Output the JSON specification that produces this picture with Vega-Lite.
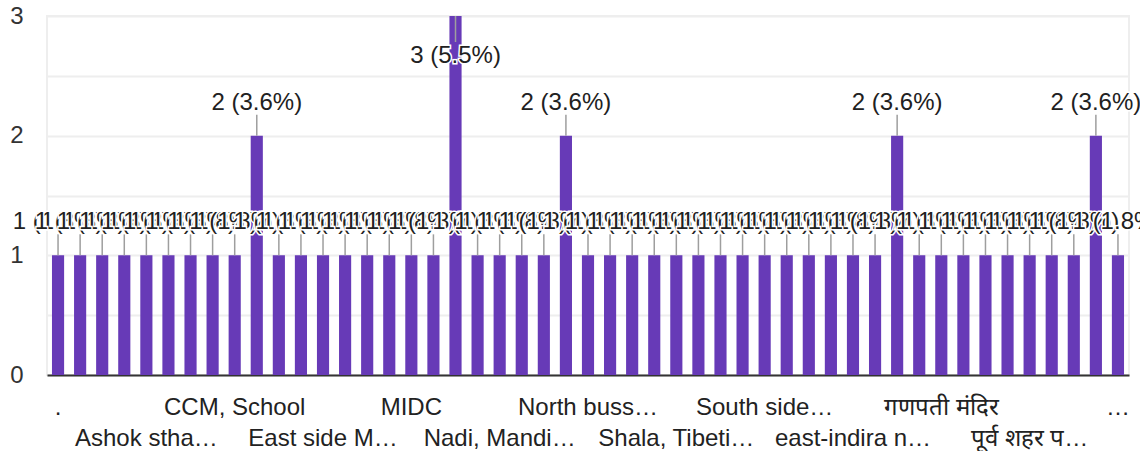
{
  "$schema": "https://vega.github.io/schema/vega-lite/v6.json",
  "width": 1082,
  "height": 359,
  "autosize": {"type": "none"},
  "padding": {"left": 47, "top": 16, "right": 11, "bottom": 76},
  "config": {
    "font": "Liberation Sans",
    "view": {"stroke": "#eeeeee", "strokeWidth": 2}
  },
  "data": {
    "values": [
      {"place": ".", "count": 1, "label": "1 (1.8%)"},
      {"place": "hidden-01", "count": 1, "label": "1 (1.8%)"},
      {"place": "hidden-02", "count": 1, "label": "1 (1.8%)"},
      {"place": "hidden-03", "count": 1, "label": "1 (1.8%)"},
      {"place": "Ashok stha…", "count": 1, "label": "1 (1.8%)"},
      {"place": "hidden-05", "count": 1, "label": "1 (1.8%)"},
      {"place": "hidden-06", "count": 1, "label": "1 (1.8%)"},
      {"place": "hidden-07", "count": 1, "label": "1 (1.8%)"},
      {"place": "CCM, School", "count": 1, "label": "1 (1.8%)"},
      {"place": "hidden-09", "count": 2, "label": "2 (3.6%)"},
      {"place": "hidden-10", "count": 1, "label": "1 (1.8%)"},
      {"place": "hidden-11", "count": 1, "label": "1 (1.8%)"},
      {"place": "East side M…", "count": 1, "label": "1 (1.8%)"},
      {"place": "hidden-13", "count": 1, "label": "1 (1.8%)"},
      {"place": "hidden-14", "count": 1, "label": "1 (1.8%)"},
      {"place": "hidden-15", "count": 1, "label": "1 (1.8%)"},
      {"place": "MIDC", "count": 1, "label": "1 (1.8%)"},
      {"place": "hidden-17", "count": 1, "label": "1 (1.8%)"},
      {"place": "hidden-18", "count": 3, "label": "3 (5.5%)"},
      {"place": "hidden-19", "count": 1, "label": "1 (1.8%)"},
      {"place": "Nadi, Mandi…", "count": 1, "label": "1 (1.8%)"},
      {"place": "hidden-21", "count": 1, "label": "1 (1.8%)"},
      {"place": "hidden-22", "count": 1, "label": "1 (1.8%)"},
      {"place": "hidden-23", "count": 2, "label": "2 (3.6%)"},
      {"place": "North buss…", "count": 1, "label": "1 (1.8%)"},
      {"place": "hidden-25", "count": 1, "label": "1 (1.8%)"},
      {"place": "hidden-26", "count": 1, "label": "1 (1.8%)"},
      {"place": "hidden-27", "count": 1, "label": "1 (1.8%)"},
      {"place": "Shala, Tibeti…", "count": 1, "label": "1 (1.8%)"},
      {"place": "hidden-29", "count": 1, "label": "1 (1.8%)"},
      {"place": "hidden-30", "count": 1, "label": "1 (1.8%)"},
      {"place": "hidden-31", "count": 1, "label": "1 (1.8%)"},
      {"place": "South side…", "count": 1, "label": "1 (1.8%)"},
      {"place": "hidden-33", "count": 1, "label": "1 (1.8%)"},
      {"place": "hidden-34", "count": 1, "label": "1 (1.8%)"},
      {"place": "hidden-35", "count": 1, "label": "1 (1.8%)"},
      {"place": "east-indira n…", "count": 1, "label": "1 (1.8%)"},
      {"place": "hidden-37", "count": 1, "label": "1 (1.8%)"},
      {"place": "hidden-38", "count": 2, "label": "2 (3.6%)"},
      {"place": "hidden-39", "count": 1, "label": "1 (1.8%)"},
      {"place": "गणपती मंदिर", "count": 1, "label": "1 (1.8%)"},
      {"place": "hidden-41", "count": 1, "label": "1 (1.8%)"},
      {"place": "hidden-42", "count": 1, "label": "1 (1.8%)"},
      {"place": "hidden-43", "count": 1, "label": "1 (1.8%)"},
      {"place": "पूर्व शहर प…", "count": 1, "label": "1 (1.8%)"},
      {"place": "hidden-45", "count": 1, "label": "1 (1.8%)"},
      {"place": "hidden-46", "count": 1, "label": "1 (1.8%)"},
      {"place": "hidden-47", "count": 2, "label": "2 (3.6%)"},
      {"place": "…", "count": 1, "label": "1 (1.8%)"}
    ]
  },
  "encoding": {
    "x": {
      "field": "place",
      "type": "nominal",
      "sort": null,
      "scale": {"paddingInner": 0.45, "paddingOuter": 0.225},
      "axis": {
        "title": null,
        "labelAngle": 0,
        "ticks": false,
        "grid": false,
        "domainColor": "#333333",
        "domainWidth": 2,
        "labelFontSize": 24,
        "labelColor": "#222222",
        "labelPadding": 20,
        "labelLineHeight": 31,
        "labelOverlap": false,
        "labelBound": false,
        "labelFlush": false,
        "labelLimit": 400,
        "values": [".", "Ashok stha…", "CCM, School", "East side M…", "MIDC", "Nadi, Mandi…", "North buss…", "Shala, Tibeti…", "South side…", "east-indira n…", "गणपती मंदिर", "पूर्व शहर प…", "…"],
        "labelExpr": "indexof(['Ashok stha…', 'East side M…', 'Nadi, Mandi…', 'Shala, Tibeti…', 'east-indira n…', 'पूर्व शहर प…'], datum.value) >= 0 ? [' ', datum.label] : datum.label"
      }
    }
  },
  "layer": [
    {
      "mark": {"type": "bar", "color": "#673ab7"},
      "encoding": {
        "y": {
          "field": "count",
          "type": "quantitative",
          "scale": {"domain": [0, 3], "nice": false},
          "axis": {
            "title": null,
            "values": [0, 0.5, 1, 1.5, 2, 2.5, 3],
            "labelExpr": "datum.value % 1 == 0 ? format(datum.value, 'd') : ''",
            "ticks": false,
            "domain": false,
            "grid": true,
            "gridColor": "#eeeeee",
            "gridWidth": 2,
            "labelFontSize": 24,
            "labelColor": "#333333",
            "labelPadding": 24
          }
        }
      }
    },
    {
      "transform": [{"filter": "datum.count < 3"}],
      "mark": {"type": "rule", "color": "#9e9e9e", "strokeWidth": 1.5, "y2Offset": -21},
      "encoding": {
        "y": {"field": "count", "type": "quantitative"},
        "y2": {"field": "count"}
      }
    },
    {
      "transform": [{"filter": "datum.count >= 3"}],
      "mark": {"type": "rule", "color": "#9e9e9e", "strokeWidth": 1.5, "y2Offset": 26},
      "encoding": {
        "y": {"field": "count", "type": "quantitative"},
        "y2": {"field": "count"}
      }
    },
    {
      "transform": [
        {"filter": "datum.count < 3"},
        {"fold": ["label", "place"], "as": ["part", "partValue"]}
      ],
      "mark": {"type": "text", "fontSize": 24, "dy": -33, "baseline": "middle", "align": "center", "stroke": "white", "strokeWidth": 3},
      "encoding": {
        "y": {"field": "count", "type": "quantitative"},
        "text": {"field": "label"},
        "fill": {"condition": {"test": "datum.part == 'label'", "value": "white"}, "value": "#212121"},
        "strokeOpacity": {"condition": {"test": "datum.part == 'label'", "value": 1}, "value": 0}
      }
    },
    {
      "transform": [
        {"filter": "datum.count >= 3"},
        {"fold": ["label", "place"], "as": ["part", "partValue"]}
      ],
      "mark": {"type": "text", "fontSize": 24, "dy": 40, "baseline": "middle", "align": "center", "stroke": "white", "strokeWidth": 3},
      "encoding": {
        "y": {"field": "count", "type": "quantitative"},
        "text": {"field": "label"},
        "fill": {"condition": {"test": "datum.part == 'label'", "value": "white"}, "value": "#212121"},
        "strokeOpacity": {"condition": {"test": "datum.part == 'label'", "value": 1}, "value": 0}
      }
    }
  ]
}
